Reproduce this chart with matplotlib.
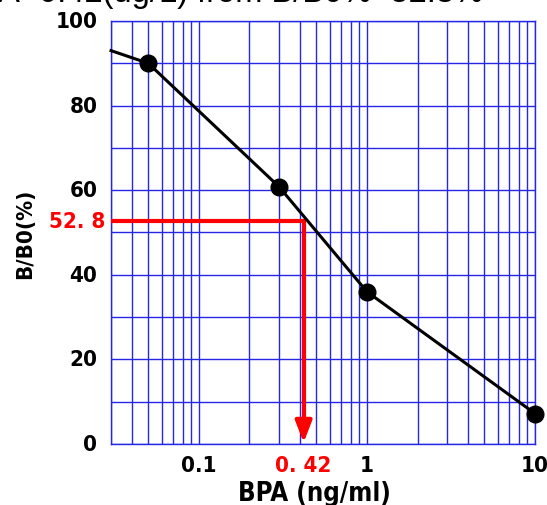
import numpy as np
import matplotlib
matplotlib.use("Agg")
import matplotlib.pyplot as plt
import matplotlib.transforms as mtransforms
from matplotlib import font_manager

# ── Data ─────────────────────────────────────────────────
bpa = [0.05, 0.3, 1.0, 10.0]          # ng/ml
bb0 = [90.0, 60.8, 36.0, 7.2]         # B/B0 (%)
curve_x = [0.03] + bpa                # line starts at the left edge
curve_y = [93.0] + bb0

sample_bb0 = 52.8
sample_bpa = 0.42

xtick_vals = [0.1, 1, 10]
xtick_labels = ["0.1", "1", "10"]
ytick_vals = [0, 20, 40, 60, 80, 100]

GRID = "#2626e6"

# narrow bold face for the labels, if one is installed
cond = [f for f in font_manager.fontManager.ttflist
        if ("condensed" in f.fname.lower() or "narrow" in f.fname.lower())
        and "bold" in f.fname.lower() and "oblique" not in f.fname.lower()
        and "italic" not in f.fname.lower()]


def narrow(size):
    if cond:
        return dict(fontproperties=font_manager.FontProperties(fname=cond[0].fname, size=size))
    return dict(fontsize=size - 2, fontweight="bold")


fig = plt.figure(figsize=(5.47, 5.06), dpi=100)
ax = fig.add_axes([0.203, 0.1206, 0.775, 0.8359])

ax.set_xscale("log")
ax.set_xlim(0.03, 10)
ax.set_ylim(0, 100)

# blue log grid
ax.set_xticks([m * 10.0 ** e for e in (-2, -1, 0) for m in range(1, 10)
               if 0.03 <= m * 10.0 ** e <= 10] + [10], minor=False)
ax.set_yticks(np.arange(0, 101, 10))
ax.grid(True, which="major", color=GRID, linewidth=1.0)
ax.tick_params(length=0, labelbottom=False, labelleft=False)
for sp in ax.spines.values():
    sp.set_color(GRID)
    sp.set_linewidth(1.0)

ytr = mtransforms.blended_transform_factory(ax.transAxes, ax.transData)
xtr = mtransforms.blended_transform_factory(ax.transData, ax.transAxes)

# tick labels as text
for v in ytick_vals:
    ax.text(-0.032, v, str(v), transform=ytr, ha="right", va="center", **narrow(16))
for v, lab in zip(xtick_vals, xtick_labels):
    ax.text(v, -0.025, lab, transform=xtr, ha="center", va="top", **narrow(16))

# curve
ax.plot(curve_x, curve_y, color="black", linewidth=2.2, zorder=4, clip_on=False)
ax.plot(bpa, bb0, "o", color="black", markersize=12, zorder=5, clip_on=False)

# red read-off lines
ax.plot([0.03, sample_bpa], [sample_bb0, sample_bb0], color="#ff0000", linewidth=3.0, zorder=3)
ax.plot([sample_bpa, sample_bpa], [sample_bb0, 4.0], color="#ff0000", linewidth=3.0, zorder=3)
ax.annotate("", xy=(sample_bpa, 0.3), xytext=(sample_bpa, 5.0),
            arrowprops=dict(arrowstyle="-|>,head_length=1.3,head_width=0.5",
                            color="#ff0000", lw=3.0, shrinkA=0, shrinkB=0), zorder=3)

ax.text(-0.014, sample_bb0, "52. 8", transform=ytr, ha="right", va="center",
        color="#ff0000", **narrow(16))
ax.text(sample_bpa, -0.025, "0. 42", transform=xtr, ha="center", va="top",
        color="#ff0000", **narrow(16))

ax.set_xlabel("BPA (ng/ml)", va="top", **narrow(18.5))
ax.xaxis.set_label_coords(0.479, -0.085)
ax.set_ylabel("B/B0(%)", labelpad=55, **narrow(16))

# title, cut off at the top edge as in the source image
fig.text(483 / 547, 1 - 2 / 506, "BPA=0.42(ug/L) from B/B0%=52.8%",
         ha="right", va="baseline", fontsize=23.5, family=["Liberation Sans", "DejaVu Sans"])

fig.savefig("out.png", dpi=100)
